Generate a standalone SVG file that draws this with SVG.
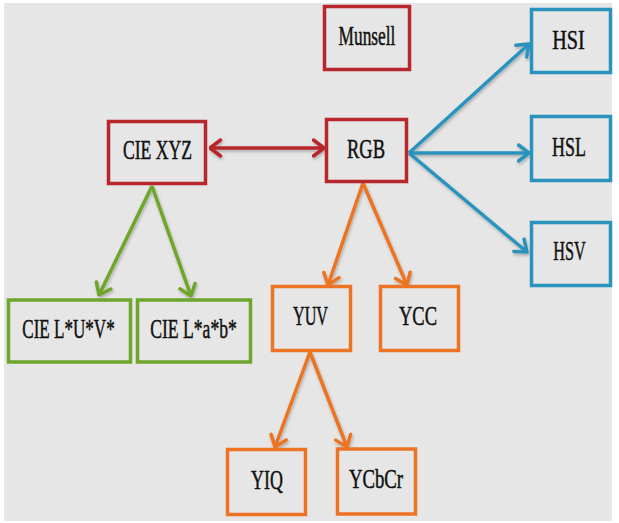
<svg xmlns="http://www.w3.org/2000/svg" width="619" height="523" viewBox="0 0 619 523">
<style>
.box{fill:#e6e6e6;stroke-width:3.5}
.r{stroke:#b8272c}.g{stroke:#6ea62c}.b{stroke:#2a93bd}.o{stroke:#ec7323}
.lbl{font-family:"Liberation Serif","Times New Roman",serif;font-size:28px;fill:#111;stroke:#111;stroke-width:0.5;text-anchor:middle}
.c{fill:none;stroke-width:3.5;stroke-linecap:butt}
</style>
<defs>
<filter id="sh" x="-10%" y="-10%" width="120%" height="130%"><feDropShadow dx="1" dy="2" stdDeviation="1.5" flood-color="#000" flood-opacity="0.25"/></filter>
<marker id="ar" viewBox="0 0 14 20" refX="12.5" refY="10" markerWidth="14" markerHeight="20" markerUnits="userSpaceOnUse" orient="auto-start-reverse"><path d="M2,2 L12.5,10 L2,18" fill="none" stroke="#b8272c" stroke-width="3.5" stroke-linecap="round"/></marker>
<marker id="ag" viewBox="0 0 14 20" refX="12.5" refY="10" markerWidth="14" markerHeight="20" markerUnits="userSpaceOnUse" orient="auto"><path d="M2,2 L12.5,10 L2,18" fill="none" stroke="#6ea62c" stroke-width="3.5" stroke-linecap="round"/></marker>
<marker id="ab" viewBox="0 0 14 20" refX="12.5" refY="10" markerWidth="14" markerHeight="20" markerUnits="userSpaceOnUse" orient="auto"><path d="M2,2 L12.5,10 L2,18" fill="none" stroke="#2a93bd" stroke-width="3.5" stroke-linecap="round"/></marker>
<marker id="ao" viewBox="0 0 14 20" refX="12.5" refY="10" markerWidth="14" markerHeight="20" markerUnits="userSpaceOnUse" orient="auto"><path d="M2,2 L12.5,10 L2,18" fill="none" stroke="#ec7323" stroke-width="3.5" stroke-linecap="round"/></marker>
</defs>
<rect width="619" height="523" fill="#ffffff"/>
<rect x="4" y="3" width="608" height="518" fill="#e6e6e6"/>
<g id="connectors" filter="url(#sh)">
<line class="c r" x1="210" y1="148" x2="324" y2="148" marker-start="url(#ar)" marker-end="url(#ar)"/>
<line class="c g" x1="152" y1="186" x2="99" y2="295" marker-end="url(#ag)"/>
<line class="c g" x1="152" y1="186" x2="191" y2="296" marker-end="url(#ag)"/>
<line class="c o" x1="363" y1="183" x2="328" y2="285" marker-end="url(#ao)"/>
<line class="c o" x1="363" y1="183" x2="407" y2="285" marker-end="url(#ao)"/>
<line class="c o" x1="310" y1="352" x2="275" y2="447" marker-end="url(#ao)"/>
<line class="c o" x1="310" y1="352" x2="347" y2="447" marker-end="url(#ao)"/>
<line class="c b" x1="409" y1="153" x2="529" y2="44" marker-end="url(#ab)"/>
<line class="c b" x1="409" y1="153" x2="529" y2="153" marker-end="url(#ab)"/>
<line class="c b" x1="409" y1="153" x2="527" y2="252" marker-end="url(#ab)"/>
</g>
<g id="munsell"><rect class="box r" x="324.5" y="6.5" width="85" height="63"/><text class="lbl" transform="translate(367,45) scale(0.62,1)">Munsell</text></g>
<g id="ciexyz"><rect class="box r" x="108.5" y="121.5" width="97" height="62"/><text class="lbl" transform="translate(157.5,159) scale(0.63,1)">CIE XYZ</text></g>
<g id="rgb"><rect class="box r" x="326.5" y="119.5" width="80" height="62"/><text class="lbl" transform="translate(366,158) scale(0.66,1)">RGB</text></g>
<g id="hsi"><rect class="box b" x="531.5" y="9.5" width="79" height="63"/><text class="lbl" transform="translate(568.5,49) scale(0.72,1)">HSI</text></g>
<g id="hsl"><rect class="box b" x="531.5" y="116.5" width="79" height="64"/><text class="lbl" transform="translate(569,156) scale(0.64,1)">HSL</text></g>
<g id="hsv"><rect class="box b" x="531.5" y="222.5" width="79" height="63"/><text class="lbl" transform="translate(569.5,260) scale(0.58,1)">HSV</text></g>
<g id="cieluv"><rect class="box g" x="8.5" y="300" width="122" height="62"/><text class="lbl" transform="translate(68.5,338) scale(0.61,1)">CIE L*U*V*</text></g>
<g id="cielab"><rect class="box g" x="137.5" y="300" width="113" height="62"/><text class="lbl" transform="translate(193.5,338) scale(0.63,1)">CIE L*a*b*</text></g>
<g id="yuv"><rect class="box o" x="272.5" y="286.5" width="78" height="64"/><text class="lbl" transform="translate(310.5,325) scale(0.58,1)">YUV</text></g>
<g id="ycc"><rect class="box o" x="380.5" y="286.5" width="78" height="64"/><text class="lbl" transform="translate(418,325) scale(0.66,1)">YCC</text></g>
<g id="yiq"><rect class="box o" x="227.5" y="449.5" width="78" height="65"/><text class="lbl" transform="translate(267,489) scale(0.64,1)">YIQ</text></g>
<g id="ycbcr"><rect class="box o" x="337.5" y="449" width="78" height="65"/><text class="lbl" transform="translate(376,488) scale(0.67,1)">YCbCr</text></g>
</svg>
